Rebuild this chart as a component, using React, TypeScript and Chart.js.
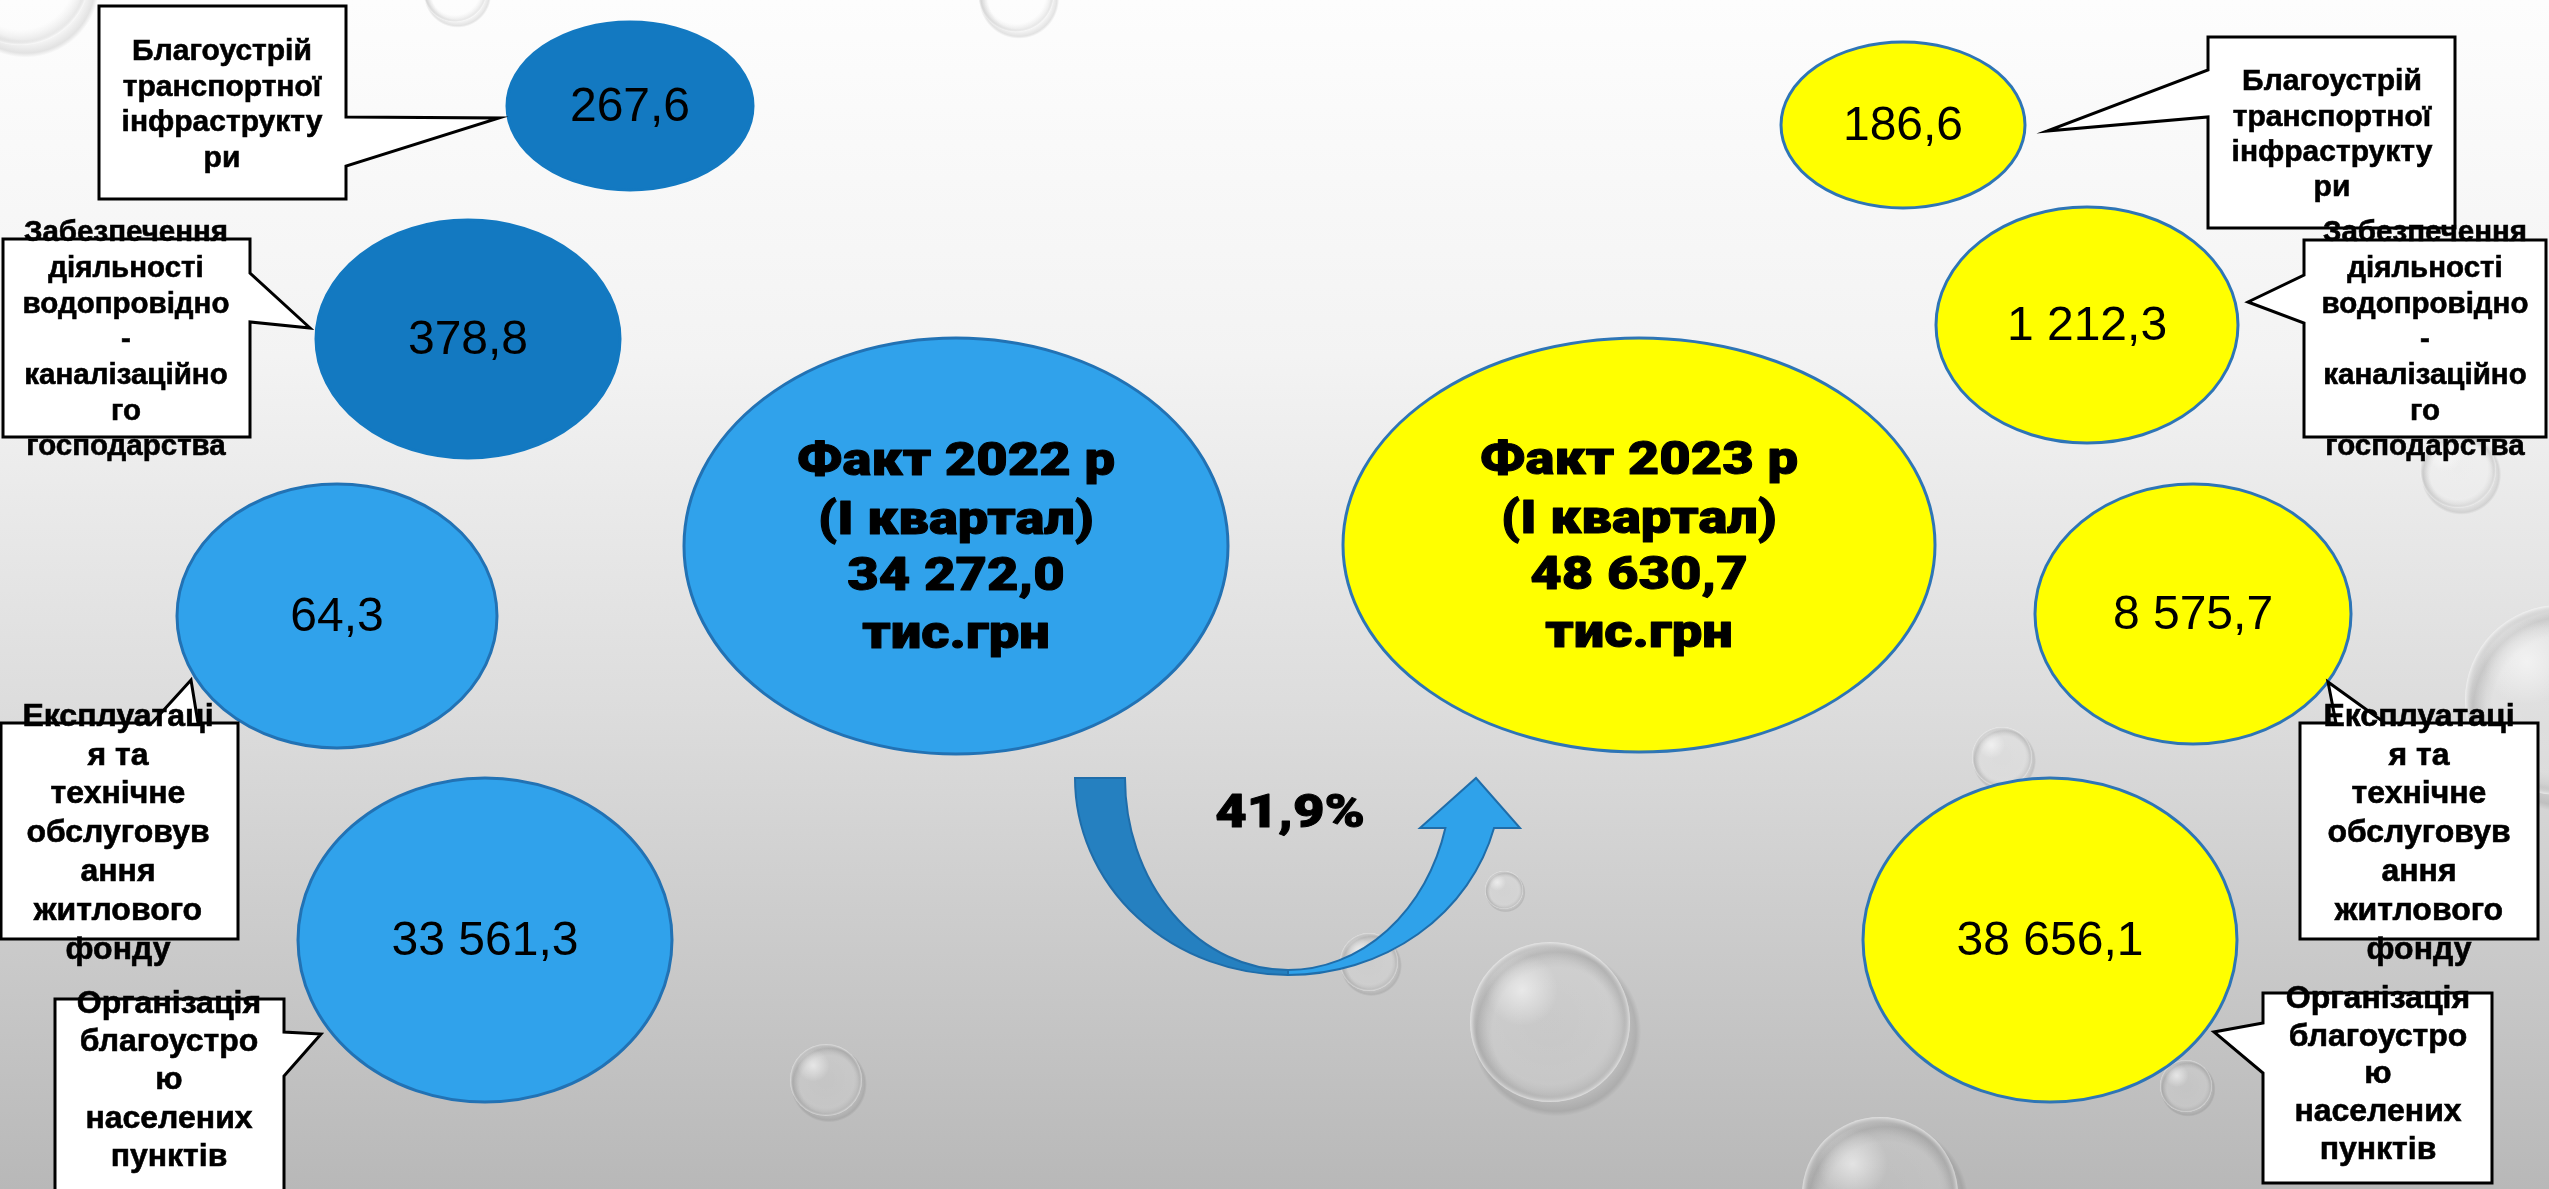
import React, { useEffect, useRef } from "react";
import { Chart, registerables } from "chart.js";

Chart.register(...registerables);

const W = 2549;
const H = 1189;

// ---- data ----
const categories = [
  "Благоустрій транспортної інфраструктури",
  "Забезпечення діяльності водопровідно-каналізаційного господарства",
  "Експлуатація та технічне обслуговування житлового фонду",
  "Організація благоустрою населених пунктів",
];
const categoryLines = [
  ["Благоустрій", "транспортної", "інфраструкту", "ри"],
  ["Забезпечення", "діяльності", "водопровідно", "-", "каналізаційно", "го", "господарства"],
  ["Експлуатаці", "я та", "технічне", "обслуговув", "ання", "житлового", "фонду"],
  ["Організація", "благоустро", "ю", "населених", "пунктів"],
];
const values2022 = [267.6, 378.8, 64.3, 33561.3];
const values2023 = [186.6, 1212.3, 8575.7, 38656.1];
const totalYears = ["2022", "2023"];
const totalValues = [34272.0, 48630.7];
const growthPct = 41.9;

// ---- layout (chart units) ----
const bubbles2022 = [
  { x: 630, y: 106, rx: 123, ry: 84 },
  { x: 468, y: 339, rx: 152, ry: 119 },
  { x: 337, y: 616, rx: 160, ry: 132 },
  { x: 485, y: 940, rx: 187, ry: 162 },
];
const bubbles2023 = [
  { x: 1903, y: 125, rx: 122, ry: 83 },
  { x: 2087, y: 325, rx: 151, ry: 118 },
  { x: 2193, y: 614, rx: 158, ry: 130 },
  { x: 2050, y: 940, rx: 187, ry: 162 },
];
const totalBubbles = [
  { x: 956, y: 546, rx: 272, ry: 208 },
  { x: 1639, y: 545, rx: 296, ry: 207 },
];
const colors2022 = ["#1379C1", "#1379C1", "#30A2EB", "#30A2EB"];
const border2022 = ["#1379C1", "#1379C1", "#2272B4", "#2272B4"];

const callouts2022 = [
  { box: [99, 6, 346, 199], side: "right", a: 117, b: 166, tip: [499, 118], tx: 222, ty: 52, lh: 35.5, fs: 30 },
  { box: [3, 239, 250, 437], side: "right", a: 273, b: 322, tip: [310, 328], tx: 126, ty: 233, lh: 35.7, fs: 29.5 },
  { box: [1, 723, 238, 939], side: "top", a: 152, b: 198, tip: [191, 680], tx: 118, ty: 717, lh: 38.8, fs: 32 },
  { box: [55, 999, 284, 1200], side: "right", a: 1032, b: 1076, tip: [321, 1034], tx: 169, ty: 1004, lh: 38.3, fs: 32 },
];
const callouts2023 = [
  { box: [2208, 37, 2455, 228], side: "left", a: 70, b: 117, tip: [2047, 131], tx: 2332, ty: 82, lh: 35.3, fs: 30 },
  { box: [2304, 240, 2546, 437], side: "left", a: 275, b: 323, tip: [2248, 302], tx: 2425, ty: 233, lh: 35.7, fs: 29.5 },
  { box: [2300, 723, 2538, 939], side: "top", a: 2336, b: 2385, tip: [2328, 682], tx: 2419, ty: 717, lh: 38.8, fs: 32 },
  { box: [2263, 993, 2492, 1183], side: "left", a: 1023, b: 1073, tip: [2214, 1032], tx: 2378, ty: 999, lh: 37.8, fs: 32 },
];

const arrowGeom = { cx: 1288, cy: 778, orx: 213, ory: 197, irx: 163, iry: 192, headY: 828, headL: 1420, headR: 1520, tipX: 1476, tipY: 778 };
const percentPos = { x: 1290, y: 815 };

const drops = [
  { x: 1016, y: -6, r: 38 },
  { x: 826, y: 1080, r: 36 },
  { x: 1504, y: 890, r: 19 },
  { x: 1369, y: 962, r: 29 },
  { x: 1550, y: 1022, r: 80 },
  { x: 2002, y: 757, r: 30 },
  { x: 2186, y: 1086, r: 26 },
  { x: 1880, y: 1195, r: 78 },
  { x: 2458, y: 470, r: 38 },
  { x: 455, y: -10, r: 32 },
  { x: 20, y: -25, r: 70 },
  { x: 2560, y: 700, r: 95 },
];

function fmt(v: number): string {
  const [i, d] = v.toFixed(1).split(".");
  return i.replace(/\B(?=(\d{3})+(?!\d))/g, " ") + "," + d;
}

const REG = '"Liberation Sans", Arial, sans-serif';
const HEAVY = '"Roboto", "Inter", "Liberation Sans", sans-serif';

function drawDrop(ctx: CanvasRenderingContext2D, x: number, y: number, r: number) {
  ctx.save();
  let g = ctx.createRadialGradient(x + r * 0.08, y + r * 0.12, r * 0.8, x + r * 0.08, y + r * 0.12, r * 1.06);
  g.addColorStop(0, "rgba(0,0,0,0)");
  g.addColorStop(0.75, "rgba(0,0,0,0.10)");
  g.addColorStop(1, "rgba(0,0,0,0)");
  ctx.fillStyle = g;
  ctx.beginPath();
  ctx.arc(x + r * 0.08, y + r * 0.12, r * 1.06, 0, Math.PI * 2);
  ctx.fill();
  g = ctx.createRadialGradient(x, y, r * 0.1, x, y, r);
  g.addColorStop(0, "rgba(255,255,255,0.08)");
  g.addColorStop(0.75, "rgba(255,255,255,0.12)");
  g.addColorStop(0.92, "rgba(160,160,160,0.18)");
  g.addColorStop(1, "rgba(255,255,255,0.55)");
  ctx.fillStyle = g;
  ctx.beginPath();
  ctx.arc(x, y, r, 0, Math.PI * 2);
  ctx.fill();
  g = ctx.createRadialGradient(x - r * 0.35, y - r * 0.4, 0, x - r * 0.35, y - r * 0.4, r * 0.45);
  g.addColorStop(0, "rgba(255,255,255,0.55)");
  g.addColorStop(1, "rgba(255,255,255,0)");
  ctx.fillStyle = g;
  ctx.beginPath();
  ctx.arc(x - r * 0.35, y - r * 0.4, r * 0.45, 0, Math.PI * 2);
  ctx.fill();
  ctx.restore();
}

function ellipse(ctx: CanvasRenderingContext2D, x: number, y: number, rx: number, ry: number, fill: string, stroke: string, lw: number) {
  ctx.beginPath();
  ctx.ellipse(x, y, rx, ry, 0, 0, Math.PI * 2);
  ctx.fillStyle = fill;
  ctx.fill();
  ctx.lineWidth = lw;
  ctx.strokeStyle = stroke;
  ctx.stroke();
}

const infographic = {
  id: "infographic",
  beforeDraw(chart: any) {
    const { ctx } = chart;
    const xs = chart.scales.x, ys = chart.scales.y;
    const X = (v: number) => xs.getPixelForValue(v);
    const Y = (v: number) => ys.getPixelForValue(v);
    ctx.save();
    const g = ctx.createLinearGradient(0, Y(0), 0, Y(H));
    g.addColorStop(0, "#FDFDFD");
    g.addColorStop(0.3, "#F3F3F3");
    g.addColorStop(0.6, "#DCDCDC");
    g.addColorStop(1, "#B8B8B8");
    ctx.fillStyle = g;
    ctx.fillRect(0, 0, chart.width, chart.height);
    drops.forEach((d) => drawDrop(ctx, X(d.x), Y(d.y), X(d.x + d.r) - X(d.x)));
    ctx.restore();
  },
  afterDatasetsDraw(chart: any) {
    const { ctx } = chart;
    const xs = chart.scales.x, ys = chart.scales.y;
    const X = (v: number) => xs.getPixelForValue(v);
    const Y = (v: number) => ys.getPixelForValue(v);
    const RX = (cx: number, r: number) => X(cx + r) - X(cx);
    const RY = (cy: number, r: number) => Math.abs(Y(cy + r) - Y(cy));
    ctx.save();

    const m22 = chart.getDatasetMeta(0).data;
    const m23 = chart.getDatasetMeta(1).data;
    const mt = chart.getDatasetMeta(2).data;
    m22.forEach((el: any, i: number) => {
      const b = bubbles2022[i];
      ellipse(ctx, el.x, el.y, RX(b.x, b.rx), RY(b.y, b.ry), colors2022[i], border2022[i], 3);
    });
    m23.forEach((el: any, i: number) => {
      const b = bubbles2023[i];
      ellipse(ctx, el.x, el.y, RX(b.x, b.rx), RY(b.y, b.ry), "#FFFF00", "#2E75B6", 3);
    });
    mt.forEach((el: any, i: number) => {
      const b = totalBubbles[i];
      ellipse(ctx, el.x, el.y, RX(b.x, b.rx), RY(b.y, b.ry), i === 0 ? "#30A2EB" : "#FFFF00", i === 0 ? "#2272B4" : "#2E75B6", 3);
    });

    // arrow
    const A = arrowGeom;
    const cx = X(A.cx), cy = Y(A.cy);
    const orx = RX(A.cx, A.orx), ory = RY(A.cy, A.ory), irx = RX(A.cx, A.irx), iry = RY(A.cy, A.iry);
    ctx.lineWidth = 2;
    ctx.strokeStyle = "#1F6DAA";
    ctx.beginPath();
    ctx.ellipse(cx, cy, orx, ory, 0, Math.PI, Math.PI / 2, true);
    ctx.lineTo(cx, cy + iry);
    ctx.ellipse(cx, cy, irx, iry, 0, Math.PI / 2, Math.PI, false);
    ctx.closePath();
    ctx.fillStyle = "#2580C0";
    ctx.fill();
    ctx.stroke();
    const hy = Y(A.headY);
    const to = Math.asin((A.headY - A.cy) / A.ory);
    const ti = Math.asin((A.headY - A.cy) / A.iry);
    ctx.beginPath();
    ctx.ellipse(cx, cy, orx, ory, 0, Math.PI / 2, to, true);
    ctx.lineTo(X(A.headR), hy);
    ctx.lineTo(X(A.tipX), Y(A.tipY));
    ctx.lineTo(X(A.headL), hy);
    ctx.lineTo(cx + irx * Math.cos(ti), hy);
    ctx.ellipse(cx, cy, irx, iry, 0, ti, Math.PI / 2, false);
    ctx.closePath();
    ctx.fillStyle = "#2FA2EA";
    ctx.fill();
    ctx.stroke();

    // callouts
    const drawCallout = (c: any) => {
      const [x0, y0, x1, y1] = c.box;
      ctx.beginPath();
      ctx.moveTo(X(x0), Y(y0));
      if (c.side === "top") {
        ctx.lineTo(X(c.a), Y(y0));
        ctx.lineTo(X(c.tip[0]), Y(c.tip[1]));
        ctx.lineTo(X(c.b), Y(y0));
      }
      ctx.lineTo(X(x1), Y(y0));
      if (c.side === "right") {
        ctx.lineTo(X(x1), Y(c.a));
        ctx.lineTo(X(c.tip[0]), Y(c.tip[1]));
        ctx.lineTo(X(x1), Y(c.b));
      }
      ctx.lineTo(X(x1), Y(y1));
      ctx.lineTo(X(x0), Y(y1));
      if (c.side === "left") {
        ctx.lineTo(X(x0), Y(c.b));
        ctx.lineTo(X(c.tip[0]), Y(c.tip[1]));
        ctx.lineTo(X(x0), Y(c.a));
      }
      ctx.closePath();
      ctx.fillStyle = "#FFFFFF";
      ctx.fill();
      ctx.lineWidth = 3;
      ctx.lineJoin = "miter";
      ctx.strokeStyle = "#000000";
      ctx.stroke();
    };
    callouts2022.forEach(drawCallout);
    callouts2023.forEach(drawCallout);

    // callout texts
    ctx.fillStyle = "#000";
    ctx.strokeStyle = "#000";
    ctx.textAlign = "center";
    ctx.textBaseline = "middle";
    const drawLabel = (c: any, lines: string[]) => {
      ctx.font = `bold ${c.fs}px ${REG}`;
      ctx.lineWidth = 0.6;
      lines.forEach((l, k) => {
        ctx.fillText(l, X(c.tx), Y(c.ty + k * c.lh));
        ctx.strokeText(l, X(c.tx), Y(c.ty + k * c.lh));
      });
    };
    callouts2022.forEach((c, i) => drawLabel(c, categoryLines[i]));
    callouts2023.forEach((c, i) => drawLabel(c, categoryLines[i]));

    // values in bubbles
    ctx.font = `48px ${REG}`;
    m22.forEach((el: any, i: number) => ctx.fillText(fmt(values2022[i]), el.x, el.y + 2));
    m23.forEach((el: any, i: number) => ctx.fillText(fmt(values2023[i]), el.x, el.y + 2));

    // totals (heavy)
    ctx.font = `900 47px ${HEAVY}`;
    ctx.lineWidth = 1;
    ctx.lineJoin = "round";
    const ref = ctx.measureText("Факт 2022 р").width;
    const sx = 318 / ref;
    const drawHeavy = (t: string, x: number, y: number) => {
      ctx.save();
      ctx.translate(x, y);
      ctx.scale(sx, 1);
      ctx.fillText(t, 0, 0);
      ctx.strokeText(t, 0, 0);
      ctx.restore();
    };
    mt.forEach((el: any, i: number) => {
      const lines = [`Факт ${totalYears[i]} р`, "(І квартал)", fmt(totalValues[i]), "тис.грн"];
      const b = totalBubbles[i];
      const offs = [-83, -24, 32, 90];
      lines.forEach((l, k) => drawHeavy(l, el.x, Y(b.y + offs[k])));
    });
    drawHeavy(fmt(growthPct) + "%", X(percentPos.x), Y(percentPos.y));

    ctx.restore();
  },
};

export default function App() {
  const ref = useRef<HTMLCanvasElement | null>(null);
  useEffect(() => {
    document.body.style.margin = "0";
    document.body.style.overflow = "hidden";
    const chart = new Chart(ref.current as HTMLCanvasElement, {
      type: "scatter",
      data: {
        datasets: [
          { label: "Факт 2022", data: bubbles2022.map((b, i) => ({ x: b.x, y: b.y, v: values2022[i], c: categories[i] })), pointRadius: 0 },
          { label: "Факт 2023", data: bubbles2023.map((b, i) => ({ x: b.x, y: b.y, v: values2023[i], c: categories[i] })), pointRadius: 0 },
          { label: "Разом", data: totalBubbles.map((b, i) => ({ x: b.x, y: b.y, v: totalValues[i] })), pointRadius: 0 },
        ] as any,
      },
      options: {
        animation: false,
        responsive: true,
        maintainAspectRatio: false,
        devicePixelRatio: 1,
        events: [],
        layout: { padding: 0 },
        plugins: { legend: { display: false }, tooltip: { enabled: false } },
        scales: {
          x: { type: "linear", min: 0, max: W, display: false },
          y: { type: "linear", min: 0, max: H, reverse: true, display: false },
        },
      },
      plugins: [infographic],
    });
    return () => chart.destroy();
  }, []);
  return (
    <div style={{ width: W, height: H, position: "relative", overflow: "hidden" }}>
      <canvas ref={ref} />
    </div>
  );
}
